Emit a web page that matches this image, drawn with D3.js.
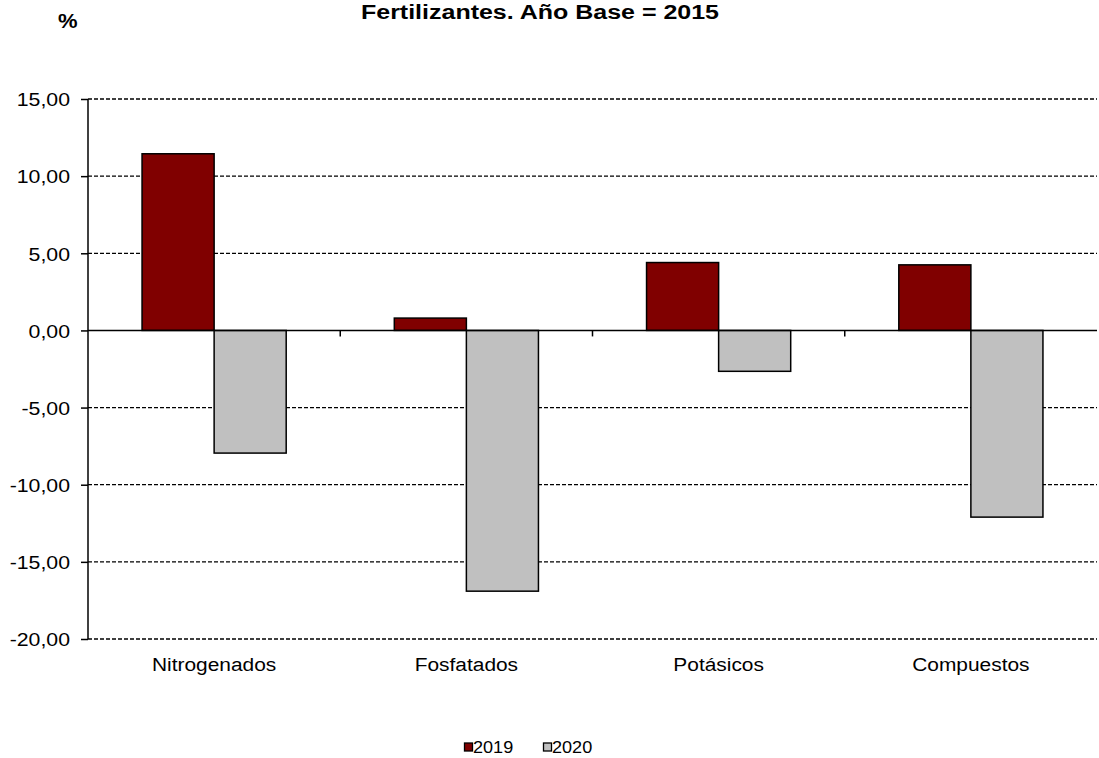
<!DOCTYPE html>
<html>
<head>
<meta charset="utf-8">
<script src="https://cdn.jsdelivr.net/npm/d3@7"></script>
<style>
  body { margin: 0; background: #fff; }
  text { font-family: "Liberation Sans", Arial, sans-serif; fill: #000; }
</style>
</head>
<body>
<svg class="svg-main" width="1099" height="758"></svg>
<script>
const categories = ["Nitrogenados", "Fosfatados", "Potásicos", "Compuestos"];
const seriesNames = ["2019", "2020"];
const values2019 = [11.45, 0.8, 4.4, 4.25];
const values2020 = [-7.95, -16.9, -2.65, -12.1];
const yTicks = [15, 10, 5, 0, -5, -10, -15, -20];
const colors = ["#800000", "#c0c0c0"];

const svg = d3.select(".svg-main");

const margin = { left: 88, right: 2, top: 99, bottom: 119 };
const width = 1099, height = 758;
const stretch = 1.12; // text in the original is a bit wide

const x = d3.scaleBand()
  .domain(categories)
  .range([margin.left, width - margin.right]);

const xs = d3.scaleBand()
  .domain(seriesNames)
  .range([0, x.bandwidth()])
  .paddingInner(0)
  .paddingOuter(0.75);

const y = d3.scaleLinear()
  .domain([-20, 15])
  .range([height - margin.bottom, margin.top]);

// grid lines
svg.append("g")
  .selectAll("line")
  .data(yTicks.filter((d) => d !== 0))
  .enter().append("line")
    .attr("x1", margin.left)
    .attr("x2", width - margin.right)
    .attr("y1", (d) => y(d))
    .attr("y2", (d) => y(d))
    .attr("stroke", "#000")
    .attr("stroke-width", 1.3)
    .attr("stroke-dasharray", "4,2");

// bars
const rows = categories.map((c, i) => ({ cat: c, vals: [values2019[i], values2020[i]] }));

const group = svg.append("g")
  .selectAll("g")
  .data(rows)
  .enter().append("g")
    .attr("transform", (d) => `translate(${x(d.cat)},0)`);

group.selectAll("rect")
  .data((d) => d.vals.map((v, j) => ({ key: seriesNames[j], v: v, j: j })))
  .enter().append("rect")
    .attr("x", (d) => xs(d.key))
    .attr("width", xs.bandwidth())
    .attr("y", (d) => y(Math.max(0, d.v)))
    .attr("height", (d) => Math.abs(y(d.v) - y(0)))
    .attr("fill", (d) => colors[d.j])
    .attr("stroke", "#000")
    .attr("stroke-width", 1.5);

// y axis
const yAxis = svg.append("g")
  .attr("transform", `translate(${margin.left},0)`)
  .call(d3.axisLeft(y)
    .tickValues(yTicks)
    .tickSize(7)
    .tickFormat((d) => d3.format(".2f")(d).replace(".", ",").replace("−", "-")));

yAxis.select(".domain").attr("stroke-width", 1.5).attr("d", `M0,${y(15)}V${y(-20)}`);
yAxis.selectAll(".tick line").attr("stroke-width", 1.5);
yAxis.selectAll(".tick text")
  .attr("x", -18 / stretch)
  .attr("dy", "0.36em")
  .attr("transform", `scale(${stretch},1)`)
  .style("font-size", "19px")
  .style("font-family", "'Liberation Sans', Arial, sans-serif");

// zero line with category ticks
const xAxis = svg.append("g")
  .attr("transform", `translate(0,${y(0)})`);

xAxis.append("line")
  .attr("x1", margin.left)
  .attr("x2", width - margin.right)
  .attr("stroke", "#000")
  .attr("stroke-width", 1.5);

xAxis.selectAll(".cat-tick")
  .data(categories.slice(1))
  .enter().append("line")
    .attr("x1", (d) => x(d))
    .attr("x2", (d) => x(d))
    .attr("y1", 0)
    .attr("y2", 6)
    .attr("stroke", "#000")
    .attr("stroke-width", 1.5);

// category labels
svg.append("g")
  .selectAll("text")
  .data(categories)
  .enter().append("text")
    .attr("transform", (d) => `translate(${x(d) + x.bandwidth() / 2},671) scale(1.1,1)`)
    .attr("text-anchor", "middle")
    .style("font-size", "19px")
    .text((d) => d);

// title
svg.append("text")
  .attr("transform", "translate(540,19) scale(1.25,1)")
  .attr("text-anchor", "middle")
  .style("font-size", "20px")
  .style("font-weight", "bold")
  .text("Fertilizantes. Año Base = 2015");

svg.append("text")
  .attr("transform", "translate(58,28) scale(1.1,1)")
  .style("font-size", "20px")
  .style("font-weight", "bold")
  .text("%");

// legend
const legend = svg.append("g")
  .attr("transform", "translate(464,753)");

const item = legend.selectAll("g")
  .data(seriesNames)
  .enter().append("g")
    .attr("transform", (d, i) => `translate(${i * 79},0)`);

item.append("rect")
  .attr("x", 0.5)
  .attr("y", -10)
  .attr("width", 8)
  .attr("height", 8)
  .attr("fill", (d, i) => colors[i])
  .attr("stroke", "#000")
  .attr("stroke-width", 1.3);

item.append("text")
  .attr("transform", "translate(9,0) scale(1.13,1)")
  .style("font-size", "16px")
  .text((d) => d);
</script>
</body>
</html>
